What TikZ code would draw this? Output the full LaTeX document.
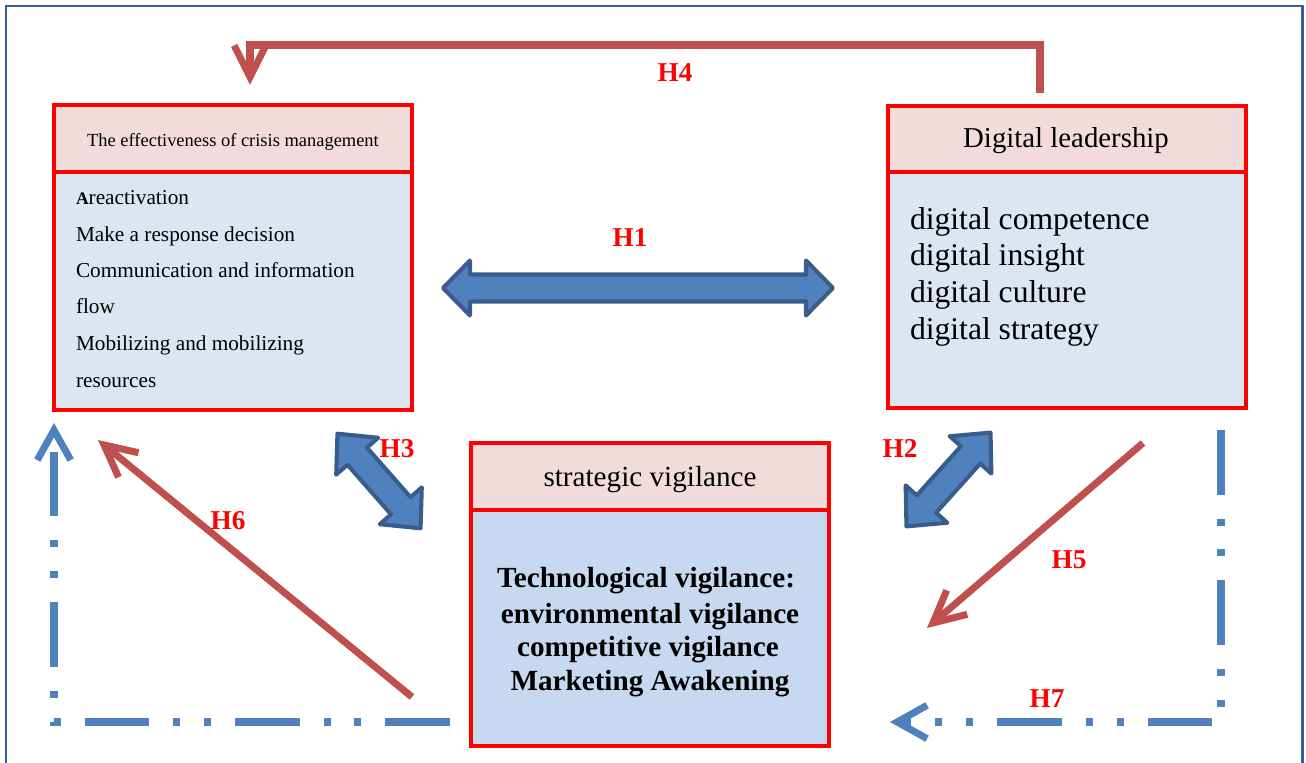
\documentclass[tikz,border=0pt]{standalone}
\usepackage{fontspec}
\setmainfont{Liberation Serif}
\usetikzlibrary{arrows.meta}
\definecolor{boxred}{HTML}{FF0000}
\definecolor{hdrfill}{HTML}{F2DCDB}
\definecolor{bodyfill}{HTML}{DCE6F2}
\definecolor{midfill}{HTML}{C6D9F1}
\definecolor{arrred}{HTML}{C0504D}
\definecolor{arrblue}{HTML}{4F81BD}
\definecolor{arrblueb}{HTML}{385D8A}
\definecolor{framec}{HTML}{3B5E8C}
\definecolor{hred}{HTML}{FF0000}
\tikzset{
  boxpart/.style={draw=boxred, line width=2.3pt, inner sep=0pt, outer sep=0pt, anchor=north west, minimum width=7.16cm},
  hdrbox/.style={boxpart, fill=hdrfill},
  bodybox/.style={boxpart, fill=bodyfill},
  midbody/.style={boxpart, fill=midfill},
  txt/.style={inner sep=0pt, outer sep=0pt, text=black},
  hlab/.style={inner sep=0pt, outer sep=0pt, text=hred, font=\fontsize{15.5}{16}\selectfont\bfseries, anchor=base},
  blockarrow/.style={fill=arrblue, draw=arrblueb, line width=2.3pt, line join=round},
  redarrow/.style={draw=arrred, line width=4pt, line join=miter, -{Straight Barb[length=18pt,width=18pt]}},
  bluedash/.style={draw=arrblue, line width=4pt, line join=miter,
    dash pattern=on 36.8pt off 13.6pt on 4pt off 13.6pt on 4pt off 13.6pt,
    -{Straight Barb[length=17pt,width=19pt]}},
  frameline/.style={draw=framec, line width=1.7pt}
}
\begin{document}
\begin{tikzpicture}[x=0.02cm,y=-0.02cm]
\useasboundingbox (0,0) rectangle (1306,763);
\draw[frameline] (6,763) -- (6,6) -- (1302,6) -- (1302,763);

% left box
\node[bodybox, minimum height=4.76cm] (crisisB) at (54,172) {};
\node[hdrbox, minimum height=1.34cm] (crisisH) at (54,105) {};
\node[txt, anchor=base, font=\fontsize{10.5}{12}\selectfont] (crisisT) at (233,147) {The effectiveness of crisis management};
\begin{scope}[every node/.style={txt, anchor=base west, font=\fontsize{12.1}{14}\selectfont}]
\node (c1) at (76,205) {{\bfseries\fontsize{10}{10}\selectfont A}reactivation};
\node (c2) at (76,242) {Make a response decision};
\node (c3) at (76,278) {Communication and information};
\node (c4) at (76,314) {flow};
\node (c5) at (76,351) {Mobilizing and mobilizing};
\node (c6) at (76,388) {resources};
\end{scope}

% right box
\node[bodybox, minimum height=4.72cm] (leadB) at (888,172) {};
\node[hdrbox, minimum height=1.32cm] (leadH) at (888,106) {};
\node[txt, anchor=base, font=\fontsize{16.4}{18}\selectfont] (leadT) at (1066,148) {Digital leadership};
\begin{scope}[every node/.style={txt, anchor=base west, font=\fontsize{18}{20}\selectfont}]
\node (d1) at (910,230) {digital competence};
\node (d2) at (910,266) {digital insight};
\node (d3) at (910,303) {digital culture};
\node (d4) at (910,340) {digital strategy};
\end{scope}

% middle box
\node[midbody, minimum height=4.72cm] (vigB) at (471,510) {};
\node[hdrbox, minimum height=1.34cm] (vigH) at (471,443) {};
\node[txt, anchor=base, font=\fontsize{16.6}{18}\selectfont] (vigT) at (650,487) {strategic vigilance};
\begin{scope}[every node/.style={txt, anchor=base, font=\fontsize{16.6}{18}\selectfont\bfseries}]
\node (v1) at (646,588) {Technological vigilance:};
\node (v2) at (650,623) {environmental vigilance};
\node (v3) at (648,657) {competitive vigilance};
\node (v4) at (650,690) {Marketing Awakening};
\end{scope}

% block double arrows
\begin{scope}[shift={(638,288)}]
\draw[blockarrow] (-195,0) -- (-168,27.5) -- (-168,13.5) -- (168,13.5) -- (168,27.5) -- (195,0) -- (168,-27.5) -- (168,-13.5) -- (-168,-13.5) -- (-168,-27.5) -- cycle;
\end{scope}
\begin{scope}[shift={(379,481)}, rotate=-48.7]
\draw[blockarrow] (-63,0) -- (-33,28) -- (-33,13) -- (33,13) -- (33,28) -- (63,0) -- (33,-28) -- (33,-13) -- (-33,-13) -- (-33,-28) -- cycle;
\end{scope}
\begin{scope}[shift={(948.5,479.5)}, rotate=48.1]
\draw[blockarrow] (-63,0) -- (-33,28) -- (-33,13) -- (33,13) -- (33,28) -- (63,0) -- (33,-28) -- (33,-13) -- (-33,-13) -- (-33,-28) -- cycle;
\end{scope}

% red arrows
\coordinate (h4s) at (1040,93);
\coordinate (h4t) at (250,85);
\draw[redarrow] (h4s) -- ++(0,-48) -| (h4t);
\coordinate (h5s) at (1143,443);
\coordinate (h5t) at (927,628);
\draw[redarrow] (h5s) -- (h5t);
\coordinate (h6s) at (412,697);
\coordinate (h6t) at (98,440);
\draw[redarrow] (h6s) -- (h6t);

% blue dash-dot-dot arrows
\coordinate (ls) at (450,722);
\coordinate (lt) at (54,423);
\draw[bluedash] (ls) -| (lt);
\coordinate (rs) at (1221,430);
\coordinate (rt) at (890,722);
\draw[bluedash] (rs) |- (rt);

% labels
\node[hlab] (H1) at (630,247) {H1};
\node[hlab] (H2) at (900,458) {H2};
\node[hlab] (H3) at (397,458) {H3};
\node[hlab] (H4) at (675,82) {H4};
\node[hlab] (H5) at (1069,569) {H5};
\node[hlab] (H6) at (228,530) {H6};
\node[hlab] (H7) at (1047,707) {H7};
\end{tikzpicture}
\end{document}
